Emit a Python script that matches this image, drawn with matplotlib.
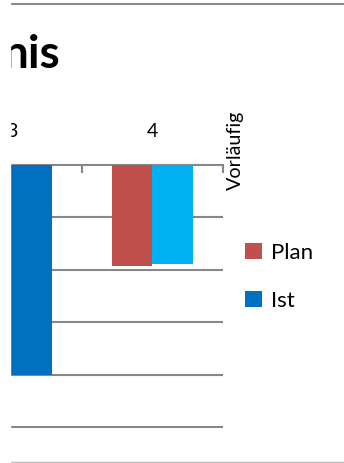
import matplotlib.pyplot as plt
from matplotlib.lines import Line2D
from matplotlib.patches import Rectangle
import numpy as np

# data
categories = ["3", "4"]
plan_values = [-1.75, -1.92]
ist_values = [-4.0, -1.88]
ist_colors = ["#0070C0", "#00B0F0"]   # 4 is preliminary (Vorläufig)
plan_color = "#C0504D"
series_labels = ["Plan", "Ist"]
title_text = "nis"
note_text = "Vorläufig"

W, H = 344, 463
plt.rcParams['font.family'] = ['Lato', 'DejaVu Sans']

fig = plt.figure(figsize=(W / 100, H / 100), dpi=100)

# plot area: x from px 10 to 223, y from px 165 (value 0) downwards
y_top = 165
step = 52.4
ymin = -5.1
y_bot = y_top + (-ymin) * step
ax = fig.add_axes([10 / W, (H - y_bot) / H, 213 / W, (y_bot - y_top) / H])

x = np.arange(len(categories))
bw = 0.29
plan_bars = ax.bar(x - bw / 2, plan_values, bw, color=plan_color, zorder=3)
ist_bars = ax.bar(x + bw / 2, ist_values, bw, color=ist_colors, zorder=3)

ax.set_xlim(-0.0106, 1.5)
ax.set_ylim(ymin, 0)

# gridlines
ax.set_yticks([-1, -2, -3, -4, -5])
ax.yaxis.grid(True, color="#878787", linewidth=1.5)
ax.tick_params(axis='y', left=False, labelleft=False)

for s in ['left', 'right', 'bottom']:
    ax.spines[s].set_visible(False)
ax.spines['top'].set_color("#878787")
ax.spines['top'].set_linewidth(1.5)

# category labels on top, tick marks between categories
ax.xaxis.set_ticks_position('top')
ax.set_xticks([0.5, 1.5])
ax.set_xticks(x, minor=True)
ax.set_xticklabels(categories, minor=True)
ax.tick_params(axis='x', which='major', direction='in', length=5.5, width=1.5,
               color="#878787", labeltop=False, labelbottom=False)
ax.tick_params(axis='x', which='minor', length=0, pad=18, labelsize=14,
               labeltop=True, labelbottom=False, labelcolor="black")

# legend
ax.legend([plan_bars, ist_bars], series_labels, loc='upper left',
          bbox_to_anchor=(245 / W, (H - 243) / H), bbox_transform=fig.transFigure,
          frameon=False, fontsize=16, handlelength=0.75, handleheight=0.75,
          handletextpad=0.4, labelspacing=1.25, borderpad=0, borderaxespad=0)

# title and note
fig.text(2 / W, (H - 68) / H, title_text, ha='left', va='baseline',
         fontsize=33, fontweight='bold', color='black')
fig.text(227 / W, (H - 190) / H, note_text, rotation=90, ha='left', va='bottom',
         fontsize=14.2, color='black')

# separator lines
fig.add_artist(Line2D([10 / W, 1], [(H - 4) / H] * 2, color="#8a8a8a", linewidth=1.5,
                      transform=fig.transFigure))
fig.add_artist(Line2D([10 / W, 1], [(H - 462) / H] * 2, color="#bdbdbd", linewidth=1,
                      transform=fig.transFigure))

# white margin on the left
fig.add_artist(Rectangle((0, 0), 10 / W, 1, color="white", transform=fig.transFigure,
                         zorder=100))

fig.savefig("out.png", dpi=100)
